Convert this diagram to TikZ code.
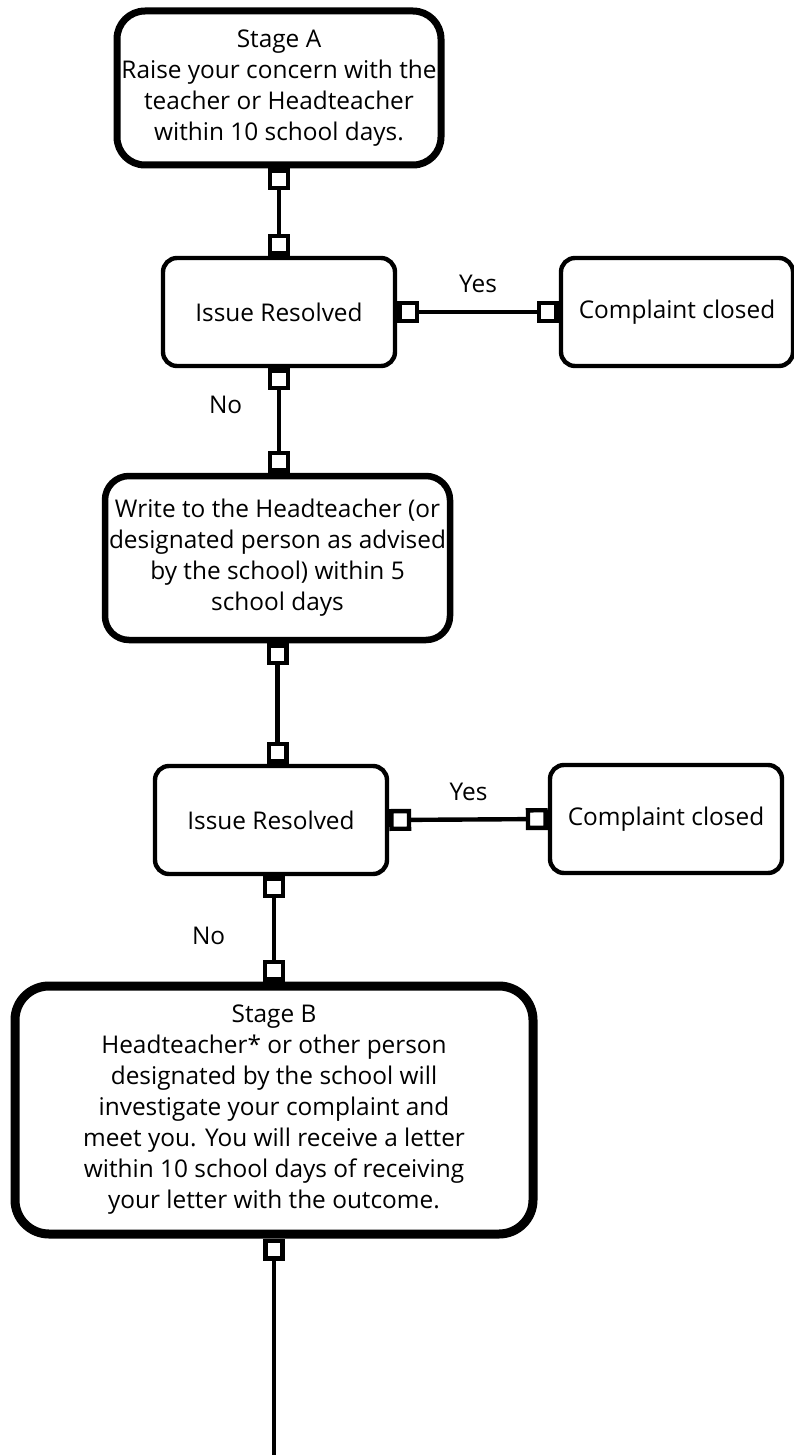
\documentclass[tikz,border=0pt]{standalone}
\usepackage{fontspec}
\setmainfont{Open Sans}
\usetikzlibrary{arrows.meta, positioning}

\newcommand{\flowfont}{\fontsize{12.2}{15.5}\selectfont}

\begin{document}
\begin{tikzpicture}[
    x=0.5pt, y=0.5pt,
    stagebox/.style={rectangle, draw, align=center, font=\flowfont, inner sep=2pt},
    checkbox/.style={rectangle, draw, line width=2.2pt, rounded corners=7pt,
                 minimum width=116pt, minimum height=54pt, font=\flowfont},
    link/.style={line width=2.2pt,
                 {Square[open,length=11pt,width=11pt]}-{Square[open,length=11pt,width=11pt]}},
    tag/.style={font=\flowfont},
  ]
    \useasboundingbox (0,0) rectangle (793,-1455);

    \node[stagebox, line width=3.5pt, rounded corners=14pt,
          minimum width=162pt, minimum height=77pt] (stageA) at (279,-88)
          {Stage A\\Raise your concern with the\\teacher or Headteacher\\within 10 school days.};
    \node[checkbox] (ir1) at (279,-312) {Issue Resolved};
    \node[checkbox] (cc1) at (677,-312) {Complaint closed};
    \node[stagebox, line width=3.25pt, rounded corners=12pt,
          minimum width=171pt, minimum height=82pt] (write) at (277.5,-558)
          {Write to the Headteacher (or\\designated person as advised\\by the school) within 5\\school days};
    \node[checkbox] (ir2) at (271,-820) {Issue Resolved};
    \node[checkbox] (cc2) at (666,-819) {Complaint closed};
    \node[stagebox, line width=4.5pt, rounded corners=17pt,
          minimum width=259pt, minimum height=124pt] (stageB) at (274,-1110)
          {Stage B\\Headteacher* or other person\\designated by the school will\\investigate your complaint and\\meet you. You will receive a letter\\within 10 school days of receiving\\your letter with the outcome.};
    \coordinate (tail) at (274,-1462);

    % connectors
    \draw[link] (stageA.south) -- (ir1.north);
    \draw[link] (ir1.east) -- node[tag, above=5pt] {Yes} (cc1.west);
    \draw[link] (ir1.south) -- node[tag, pos=0.35, left=14pt] {No} (ir1.south |- write.north);
    \draw[link] (write.south) -- (write.south |- ir2.north);
    \draw[link] (ir2.east) -- node[tag, above=5pt] {Yes} (cc2.west);
    \draw[link] (stageB.north |- ir2.south) -- node[tag, pos=0.57, left=20pt] {No} (stageB.north);
    \draw[line width=2.4pt, {Square[open,length=11pt,width=11pt]}-] (stageB.south) -- (tail);
  \end{tikzpicture}
\end{document}
